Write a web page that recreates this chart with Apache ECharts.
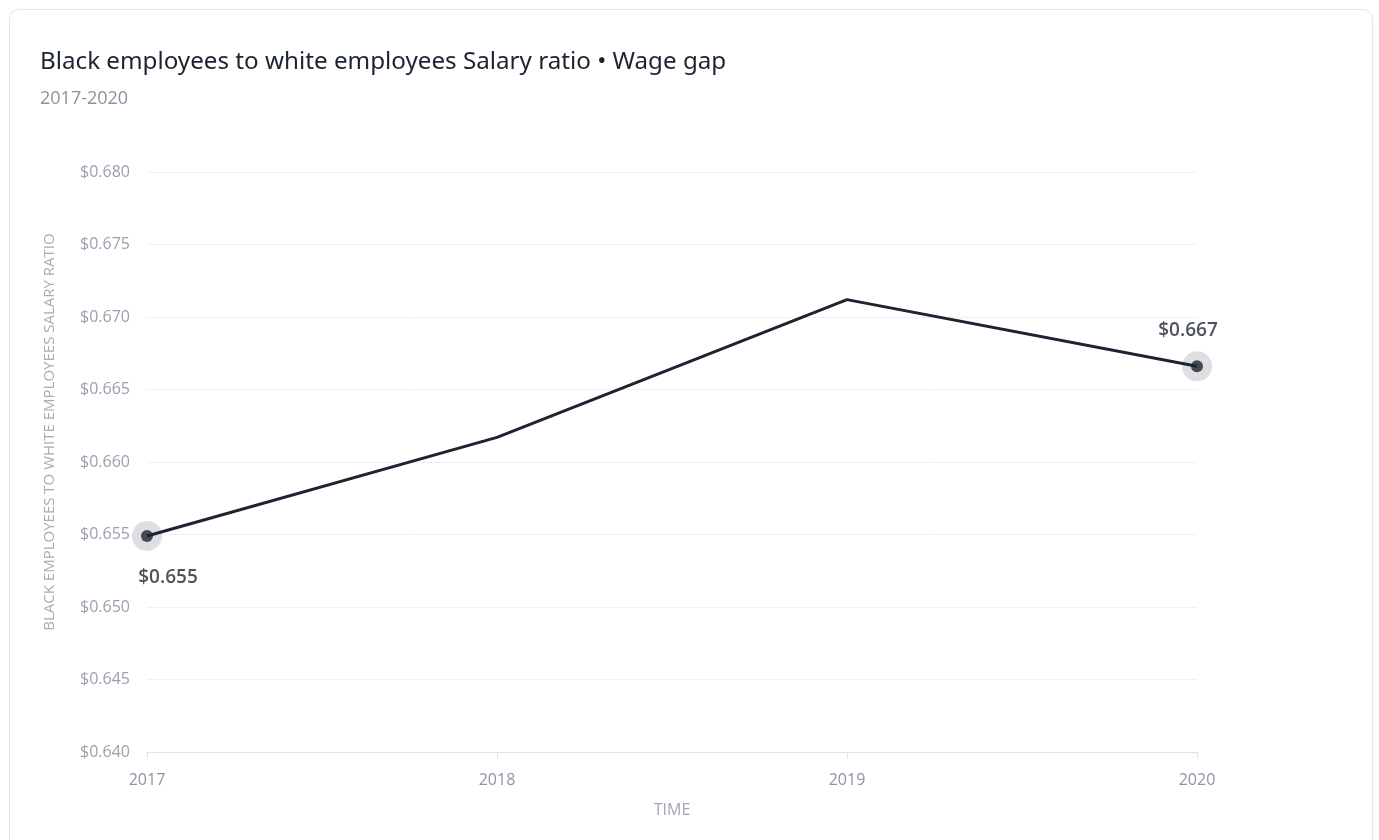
<!DOCTYPE html>
<html>
<head>
<meta charset="utf-8">
<script src="https://cdn.jsdelivr.net/npm/echarts@6/dist/echarts.min.js"></script>
<style>
  html, body { margin: 0; padding: 0; background: #fff; }
  #card {
    position: absolute; left: 9px; top: 9px; width: 1364px; height: 860px;
    border: 1px solid #e4e7ec; border-radius: 10px; box-sizing: border-box;
    box-shadow: 0 0 3px rgba(0,0,0,0.04);
  }
  #wage-chart-container { position: absolute; left: 0; top: 0; width: 1379px; height: 840px; }
</style>
</head>
<body>
<div id="card"></div>
<div id="wage-chart-container"></div>
<script>
  // data
  var years = ['2017', '2018', '2019', '2020'];
  var ratios = [0.6549, 0.6617, 0.6712, 0.6666];
  var yTicks = { min: 0.640, max: 0.680, step: 0.005 };

  var endIdx = [0, years.length - 1];
  var endPoints = endIdx.map(function (i) { return [years[i], ratios[i]]; });

  var font = "'Open Sans', 'Noto Sans', sans-serif";
  var myChart = echarts.init(document.getElementById('wage-chart-container'));

  var option = {
    animation: false,
    title: {
      text: 'Black employees to white employees Salary ratio \u2022 Wage gap',
      subtext: '2017-2020',
      left: 35,
      top: 45,
      itemGap: 16,
      textStyle: { fontFamily: "'Noto Sans', 'Open Sans', sans-serif", fontSize: 24.2, fontWeight: 'normal', color: '#1b2430' },
      subtextStyle: { fontFamily: font, fontSize: 18, color: '#8b91a0' }
    },
    grid: { left: 147, right: 182, top: 172, bottom: 88 },
    xAxis: {
      type: 'category',
      data: years,
      boundaryGap: false,
      name: 'TIME',
      nameLocation: 'middle',
      nameGap: 50,
      nameTextStyle: { fontFamily: font, fontSize: 16, color: '#a0a6b3' },
      axisLine: { lineStyle: { color: '#dde2ea', width: 1 } },
      axisTick: { show: true, length: 6, lineStyle: { color: '#dde2ea' } },
      axisLabel: { fontFamily: font, fontSize: 16, color: '#8d93a1', margin: 20 },
      splitLine: { show: false }
    },
    yAxis: {
      type: 'value',
      min: yTicks.min,
      max: yTicks.max,
      interval: yTicks.step,
      axisLine: { show: false },
      axisTick: { show: false },
      axisLabel: {
        fontFamily: font, fontSize: 16, color: '#9aa0ae', margin: 17,
        formatter: function (v) { return '$' + v.toFixed(3); }
      },
      splitLine: { lineStyle: { color: '#eef0f4', width: 1 } }
    },
    graphic: [{
      type: 'text',
      x: 50, y: 432,
      rotation: Math.PI / 2,
      style: {
        text: 'BLACK EMPLOYEES TO WHITE EMPLOYEES SALARY RATIO',
        fontFamily: font, fontSize: 15, fill: '#a6acb8',
        align: 'center', verticalAlign: 'middle'
      }
    }],
    series: [
      {
        type: 'line',
        data: ratios,
        showSymbol: false,
        lineStyle: { color: '#1c2430', width: 3 },
        z: 2
      },
      {
        type: 'scatter',
        data: endPoints,
        symbolSize: 30,
        itemStyle: { color: '#d5d7dc' },
        z: 1
      },
      {
        type: 'scatter',
        symbolSize: 12,
        itemStyle: { color: '#1c2430' },
        z: 3,
        label: {
          show: true,
          fontFamily: font, fontSize: 19, fontWeight: 600, color: '#1f2733',
          formatter: function (p) { return '$' + p.value[1].toFixed(3); }
        },
        // label placement per endpoint
        data: endPoints.map(function (pt, k) {
          return {
            value: pt,
            label: k === 0
              ? { position: 'bottom', distance: 26, offset: [21, 0] }
              : { position: 'top', distance: 20, offset: [-9, 0] }
          };
        })
      }
    ]
  };

  myChart.setOption(option);
</script>
</body>
</html>
